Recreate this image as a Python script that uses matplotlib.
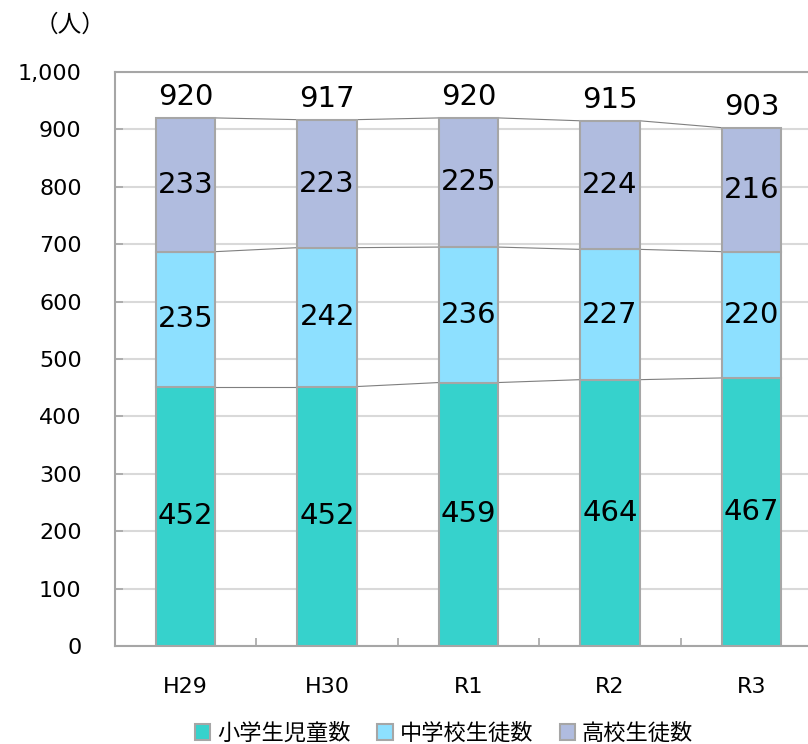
import matplotlib
matplotlib.use("Agg")
import matplotlib.pyplot as plt
from matplotlib.patches import Patch
import numpy as np

plt.rcParams['font.family'] = ['DejaVu Sans', 'Noto Sans CJK JP']

# data
years = ['H29', 'H30', 'R1', 'R2', 'R3']
series_names = ['小学生児童数', '中学校生徒数', '高校生徒数']
elementary = [452, 452, 459, 464, 467]
junior_high = [235, 242, 236, 227, 220]
high_school = [233, 223, 225, 224, 216]
colors = ['#36D2CC', '#8DE0FF', '#B0BCDF']

edge = '#A6A6A6'
grid_c = '#D9D9D9'

fig = plt.figure(figsize=(8.08, 7.44), dpi=100)
ax = fig.add_axes([115/808, 98/744, 693/808, 574/744])

x = np.arange(len(years))
width = 0.42
bottom = np.zeros(len(years))
for vals, col, name in zip([elementary, junior_high, high_school], colors, series_names):
    vals = np.array(vals)
    ax.bar(x, vals, width, bottom=bottom, color=col, edgecolor=edge,
           linewidth=1.5, label=name, zorder=3)
    # value labels in the middle of each segment
    for xi, b, v in zip(x, bottom, vals):
        ax.text(xi, b + v / 2, str(v), ha='center', va='center',
                fontsize=21, zorder=5)
    bottom = bottom + vals
    # series lines between bars
    for i in range(len(years) - 1):
        ax.plot([x[i] + width / 2, x[i + 1] - width / 2],
                [bottom[i], bottom[i + 1]], color='#7F7F7F', lw=0.8, zorder=2)

# totals above bars
for xi, t in zip(x, bottom):
    ax.annotate(f'{int(t)}', (xi, t), xytext=(0, 15), textcoords='offset points',
                ha='center', va='center', fontsize=21)

ax.set_xlim(-0.5, 4.4)
ax.set_ylim(0, 1000)
ax.set_yticks(np.arange(0, 1001, 100))
ax.set_yticklabels([f'{v:,}' for v in range(0, 1001, 100)])
ax.yaxis.grid(True, color=grid_c, lw=1.5, zorder=0)
ax.set_axisbelow(True)

ax.set_xticks(x)
ax.set_xticklabels(years)
ax.set_xticks(np.arange(0.5, 4.0, 1), minor=True)
ax.tick_params(axis='x', which='major', length=0, pad=22, labelsize=16)
ax.tick_params(axis='x', which='minor', length=6, direction='in', color=edge, width=1.2)
ax.tick_params(axis='y', length=6, direction='in', color=edge, width=1.2,
               pad=24, labelsize=16)

for s in ['left', 'bottom', 'top']:
    ax.spines[s].set_color(edge)
    ax.spines[s].set_linewidth(1.5)
ax.spines['right'].set_visible(False)

fig.text(70/808, 1 - 25/744, '（人）', ha='center', va='center',
         fontsize=17, family=['Noto Sans CJK JP', 'DejaVu Sans'])

handles = [Patch(facecolor=c, edgecolor=edge, linewidth=1.5) for c in colors]
fig.legend(handles, series_names, loc='center', bbox_to_anchor=(444/808, 1 - 733/744),
           ncol=3, frameon=False, handlelength=0.7, handleheight=0.7,
           handletextpad=0.3, columnspacing=1.2,
           prop={'family': ['Noto Sans CJK JP', 'DejaVu Sans'], 'size': 16})

fig.savefig('out.png', dpi=100)
